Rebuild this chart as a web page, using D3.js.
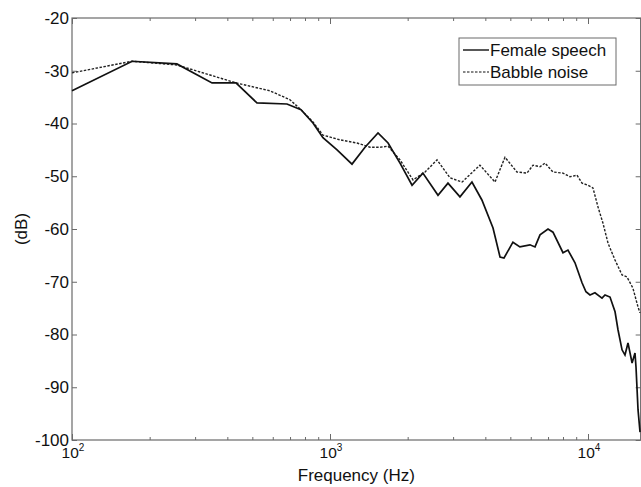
<!DOCTYPE html>
<html>
<head>
<meta charset="utf-8">
<script src="https://cdn.jsdelivr.net/npm/d3@7"></script>
<style>
  body { margin: 0; background: #fff; }
  text { font-family: "Liberation Sans", Arial, Helvetica, sans-serif; fill: #111; }
</style>
</head>
<body>
<div id="chart"></div>
<script>
// values: [frequency Hz, level dB]
const femaleSpeech = [
  [100, -33.8], [171, -28.2], [255, -28.7], [349, -32.3], [432, -32.3], [521, -36.1],
  [681, -36.3], [772, -37.4], [859, -39.9], [939, -42.7], [1065, -45.0], [1217, -47.7],
  [1367, -44.5], [1535, -41.8], [1679, -43.7], [1868, -47.5], [2080, -51.7], [2291, -49.4],
  [2622, -53.6], [2866, -51.3], [3190, -53.9], [3550, -51.1], [3879, -54.5], [4284, -59.8],
  [4560, -65.3], [4725, -65.5], [5117, -62.5], [5445, -63.4], [5957, -63.0], [6232, -63.4],
  [6516, -61.1], [6998, -60.0], [7316, -60.6], [8000, -64.5], [8361, -64.0], [8904, -66.4],
  [9480, -70.2], [9819, -71.9], [10180, -72.5], [10640, -72.1], [11330, -73.1], [11640, -72.5],
  [12170, -72.9], [12730, -75.7], [13070, -79.1], [13550, -82.9], [13910, -83.9], [14290, -81.6],
  [14820, -85.4], [15210, -83.5], [15350, -86.2], [15630, -94.3], [15910, -98.5]
]

const babbleNoise = [
  [100, -30.4], [171, -28.2], [255, -28.9], [432, -32.3], [585, -33.8], [700, -35.5],
  [772, -37.4], [859, -39.7], [939, -42.2], [1094, -43.1], [1273, -43.7], [1429, -44.5],
  [1563, -44.5], [1679, -44.3], [1868, -46.9], [2098, -50.7], [2336, -49.2], [2599, -46.9],
  [2919, -50.3], [3250, -51.1], [3811, -47.9], [4360, -51.1], [4767, -46.4], [5306, -49.2],
  [5803, -49.4], [6122, -47.9], [6516, -48.2], [6813, -47.5], [7316, -49.2], [8000, -49.4],
  [8518, -50.1], [9063, -49.8], [9480, -51.3], [10000, -51.7], [10450, -52.2], [10930, -55.8],
  [11430, -58.9], [11960, -62.7], [12730, -65.9], [13550, -68.7], [14160, -69.1], [14930, -71.2],
  [15630, -74.8], [15910, -75.9]
]

const yTicks = [-100, -90, -80, -70, -60, -50, -40, -30, -20]
const xMajor = [100, 1000, 10000]
const xMajorExp = ["2", "3", "4"]
const xMinor = [200, 300, 400, 500, 600, 700, 800, 900,
  2000, 3000, 4000, 5000, 6000, 7000, 8000, 9000]
const legendLabels = ["Female speech", "Babble noise"]

const width = 641
const height = 487
const plotLeft = 72
const plotTop = 18
const plotBottom = 440
const plotRight = plotLeft + 258 * Math.log10(160)

const x = d3.scaleLog().domain([100, 16000]).range([plotLeft, plotRight])
const y = d3.scaleLinear().domain([-100, -20]).range([plotBottom, plotTop])

const svg = d3.select('#chart')
  .append('svg')
  .attr('width', width)
  .attr('height', height)

const axisColor = '#6a6a6a'

// frame
svg.append('rect')
  .attr('x', plotLeft)
  .attr('y', plotTop)
  .attr('width', plotRight - plotLeft)
  .attr('height', plotBottom - plotTop)
  .attr('fill', 'none')
  .attr('stroke', axisColor)
  .attr('stroke-width', 1.2)

function styleAxis(g) {
  g.select('.domain').remove()
  g.selectAll('line').attr('stroke', axisColor)
}

// y axis, left with labels, right mirrored
svg.append('g')
  .attr('transform', `translate(${plotLeft},0)`)
  .call(d3.axisLeft(y).tickValues(yTicks).tickSize(-5).tickPadding(3).tickFormat(d => d))
  .call(styleAxis)
  .call(g => g.selectAll('text').attr('font-size', '17px').attr('fill', '#111')
    .attr('font-family', '"Liberation Sans", Arial, sans-serif'))

svg.append('g')
  .attr('transform', `translate(${plotRight},0)`)
  .call(d3.axisRight(y).tickValues(yTicks).tickSize(-5).tickFormat(''))
  .call(styleAxis)

// x axis, major and minor ticks, bottom and top
svg.append('g')
  .attr('transform', `translate(0,${plotBottom})`)
  .call(d3.axisBottom(x).tickValues(xMajor).tickSize(-6).tickFormat(''))
  .call(styleAxis)
svg.append('g')
  .attr('transform', `translate(0,${plotBottom})`)
  .call(d3.axisBottom(x).tickValues(xMinor).tickSize(-3).tickFormat(''))
  .call(styleAxis)
svg.append('g')
  .attr('transform', `translate(0,${plotTop})`)
  .call(d3.axisTop(x).tickValues(xMajor).tickSize(-6).tickFormat(''))
  .call(styleAxis)
svg.append('g')
  .attr('transform', `translate(0,${plotTop})`)
  .call(d3.axisTop(x).tickValues(xMinor).tickSize(-3).tickFormat(''))
  .call(styleAxis)

// x tick labels as 10 with superscript
const xl = svg.append('g')
  .selectAll('text')
  .data(xMajor)
  .join('text')
  .attr('x', d => x(d) + 1)
  .attr('y', 458)
  .attr('text-anchor', 'middle')
  .attr('font-size', '15.5px')
xl.append('tspan').text('10')
xl.append('tspan')
  .attr('dy', -7)
  .attr('font-size', '10px')
  .text((d, i) => xMajorExp[i])

// axis titles
svg.append('text')
  .attr('x', (plotLeft + plotRight) / 2)
  .attr('y', 481)
  .attr('text-anchor', 'middle')
  .attr('font-size', '17px')
  .text('Frequency (Hz)')

svg.append('text')
  .attr('transform', `translate(27 ${(plotTop + plotBottom) / 2}) rotate(-90)`)
  .attr('text-anchor', 'middle')
  .attr('font-size', '17px')
  .text('(dB)')

// curves
const line = d3.line()
  .x(d => x(d[0]))
  .y(d => y(d[1]))

svg.append('path')
  .datum(babbleNoise)
  .attr('fill', 'none')
  .attr('stroke', '#222')
  .attr('stroke-width', 1.4)
  .attr('stroke-dasharray', '2.5,1.5')
  .attr('d', line)

svg.append('path')
  .datum(femaleSpeech)
  .attr('fill', 'none')
  .attr('stroke', '#111')
  .attr('stroke-width', 1.7)
  .attr('d', line)

// legend
const legend = svg.append('g').attr('transform', 'translate(459,38)')
legend.append('rect')
  .attr('width', 157)
  .attr('height', 47)
  .attr('fill', '#fff')
  .attr('stroke', axisColor)
  .attr('stroke-width', 1)

const entries = legend.selectAll('g.entry')
  .data(legendLabels)
  .join('g')
  .attr('class', 'entry')
  .attr('transform', (d, i) => `translate(0,${12 + i * 22})`)

entries.append('line')
  .attr('x1', 4)
  .attr('x2', 30)
  .attr('stroke', '#111')
  .attr('stroke-width', (d, i) => i === 0 ? 1.4 : 1.2)
  .attr('stroke-dasharray', (d, i) => i === 0 ? null : '2.5,1.5')

entries.append('text')
  .attr('x', 31)
  .attr('y', 6)
  .attr('font-size', '17px')
  .text(d => d)
</script>
</body>
</html>
